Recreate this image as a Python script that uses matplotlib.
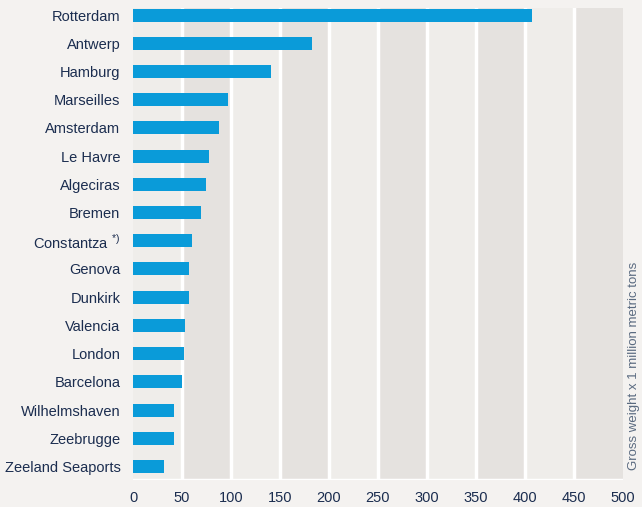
import matplotlib
matplotlib.use("Agg")
import matplotlib.pyplot as plt

ports = ["Rotterdam", "Antwerp", "Hamburg", "Marseilles", "Amsterdam", "Le Havre",
         "Algeciras", "Bremen", r"Constantza $^{\mathregular{*)}}$", "Genova", "Dunkirk", "Valencia",
         "London", "Barcelona", "Wilhelmshaven", "Zeebrugge", "Zeeland Seaports"]
values = [407, 183, 141, 97, 88, 78, 74, 69, 60, 57, 57, 53, 52, 50, 42, 42, 32]
xticks = [0, 50, 100, 150, 200, 250, 300, 350, 400, 450, 500]
xlabel = "Gross weight x 1 million metric tons"

BG = "#f4f2f0"
LIGHT = "#efedea"
DARK = "#e5e2df"
BAR = "#0a9bd9"
TXT = "#1b2d4f"

plt.rcParams['font.family'] = ['Liberation Sans', 'DejaVu Sans']
plt.rcParams['mathtext.fontset'] = 'custom'
plt.rcParams['mathtext.rm'] = 'Liberation Sans'

fig = plt.figure(figsize=(6.42, 5.07), dpi=100, facecolor=BG)
ax = fig.add_axes([133/642, 1-480/507, (623-133)/642, (480-8)/507])
ax.set_facecolor(LIGHT)

for i in range(len(xticks)-1):
    ax.axvspan(xticks[i], xticks[i+1], color=(DARK if i % 2 == 1 else LIGHT), lw=0, zorder=0)
for t in xticks[1:-1]:
    ax.axvline(t, color="white", lw=2.5, zorder=1)

y = list(range(len(ports)))
ax.barh(y, values, height=0.46, color=BAR, zorder=3)

ax.set_xlim(0, 500)
ax.set_ylim(len(ports)-1+0.48, -0.25)
ax.set_yticks(y)
ax.set_yticklabels(ports)
ax.set_xticks(xticks)
ax.set_xticklabels([str(t) for t in xticks])
ax.tick_params(axis='both', length=0, labelsize=10.5, labelcolor=TXT)
ax.tick_params(axis='y', pad=9)
ax.tick_params(axis='x', pad=8)
for s in ax.spines.values():
    s.set_visible(False)
ax.axhline(len(ports)-1+0.48, color="white", lw=2.5, zorder=2)

fig.text(633.5/642, 1-470/507, xlabel, rotation=90, ha='center', va='bottom',
         fontsize=9.5, color="#5a6a80")

fig.savefig("out.png", dpi=100, facecolor=BG)
